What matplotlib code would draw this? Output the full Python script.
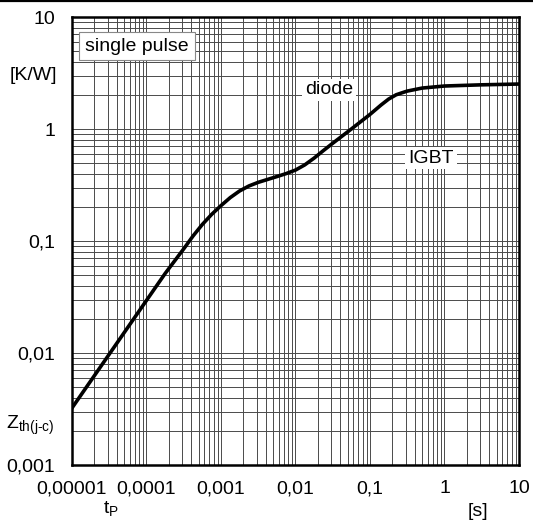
import matplotlib
matplotlib.use('Agg')
import matplotlib.pyplot as plt
from matplotlib.lines import Line2D
from matplotlib.ticker import FixedLocator, LogLocator, NullFormatter

# transient thermal impedance, single pulse
t_p = [1e-5, 3.16e-5, 1e-4, 1.78e-4, 3.16e-4, 4.22e-4, 5.62e-4, 7.5e-4,
       1e-3, 1.33e-3, 1.78e-3, 2.37e-3, 3.16e-3, 5.62e-3, 7.5e-3, 1e-2,
       1.33e-2, 1.78e-2, 2.37e-2, 3.16e-2, 5.62e-2, 0.1, 0.141, 0.178,
       0.224, 0.266, 0.316, 0.501, 1.0, 3.16, 10.0]
z_th = [0.00323, 0.00975, 0.0295, 0.0513, 0.0851, 0.111, 0.1406, 0.173,
        0.207, 0.244, 0.280, 0.310, 0.334, 0.376, 0.400, 0.430,
        0.478, 0.550, 0.642, 0.746, 1.0, 1.35, 1.64, 1.85,
        2.02, 2.10, 2.18, 2.32, 2.42, 2.48, 2.52]

x_ticks = [1e-5, 1e-4, 1e-3, 1e-2, 1e-1, 1, 10]
x_labels = ['0,00001', '0,0001', '0,001', '0,01', '0,1', '1', '10']
y_ticks = [1e-3, 1e-2, 1e-1, 1, 10]
y_labels = ['0,001', '0,01', '0,1', '1', '10']

plt.rcParams['font.family'] = ['Liberation Sans', 'DejaVu Sans']
plt.rcParams['mathtext.fontset'] = 'custom'
plt.rcParams['mathtext.rm'] = 'Liberation Sans'
plt.rcParams['mathtext.it'] = 'Liberation Sans'

W, H = 533, 524
fig = plt.figure(figsize=(W / 100, H / 100), dpi=100)
ax = fig.add_axes([72 / W, 1 - 465 / H, (519 - 72) / W, (465 - 17) / H])

ax.plot(t_p, z_th, color='black', lw=2.6, solid_joinstyle='round', zorder=3)

ax.set_xscale('log')
ax.set_yscale('log')
ax.set_xlim(1e-5, 10)
ax.set_ylim(1e-3, 10)

ax.xaxis.set_major_locator(FixedLocator(x_ticks))
ax.yaxis.set_major_locator(FixedLocator(y_ticks))
ax.set_xticklabels(x_labels)
ax.set_yticklabels(y_labels)
ax.xaxis.set_minor_locator(LogLocator(base=10, subs=range(2, 10), numticks=20))
ax.yaxis.set_minor_locator(LogLocator(base=10, subs=range(2, 10), numticks=20))
ax.xaxis.set_minor_formatter(NullFormatter())
ax.yaxis.set_minor_formatter(NullFormatter())

ax.grid(True, which='both', color='#4a4a4a', lw=0.7)
ax.set_axisbelow(True)
ax.tick_params(which='both', length=0, labelsize=14)
ax.tick_params(axis='x', pad=11)
ax.tick_params(axis='y', pad=12)

for s in ax.spines.values():
    s.set_linewidth(1.8)
    s.set_color('black')
    s.set_zorder(4)

# annotations inside the plot
ax.text(1.5e-5, 5.5, 'single pulse', fontsize=14, va='center', ha='left',
        bbox=dict(boxstyle='square,pad=0.3', fc='white', ec='#888888', lw=0.8),
        zorder=5)
ax.text(0.028, 2.23, 'diode', fontsize=14, va='center', ha='center',
        bbox=dict(boxstyle='square,pad=0.15', fc='white', ec='none'), zorder=5)
ax.text(0.66, 0.55, 'IGBT', fontsize=14, va='center', ha='center',
        bbox=dict(boxstyle='square,pad=0.15', fc='white', ec='none'), zorder=5)

# axis labels placed in pixel positions
def px(x, y):
    return x / W, 1 - y / H

fig.text(*px(33, 76), '[K/W]', fontsize=14, ha='center', va='center')
fig.text(*px(30, 425), r'Z$_{\mathrm{th(j\text{-}c)}}$', fontsize=14,
         ha='center', va='center')
fig.text(*px(111, 509), r't$_{\mathrm{P}}$', fontsize=14, ha='center', va='center')
fig.text(*px(478, 511), '[s]', fontsize=14, ha='center', va='center')

# rule along the top edge
fig.add_artist(Line2D([0, 1], [1 - 1 / H, 1 - 1 / H], color='black', lw=1.6,
                      transform=fig.transFigure))

fig.savefig('out.png', dpi=100)
